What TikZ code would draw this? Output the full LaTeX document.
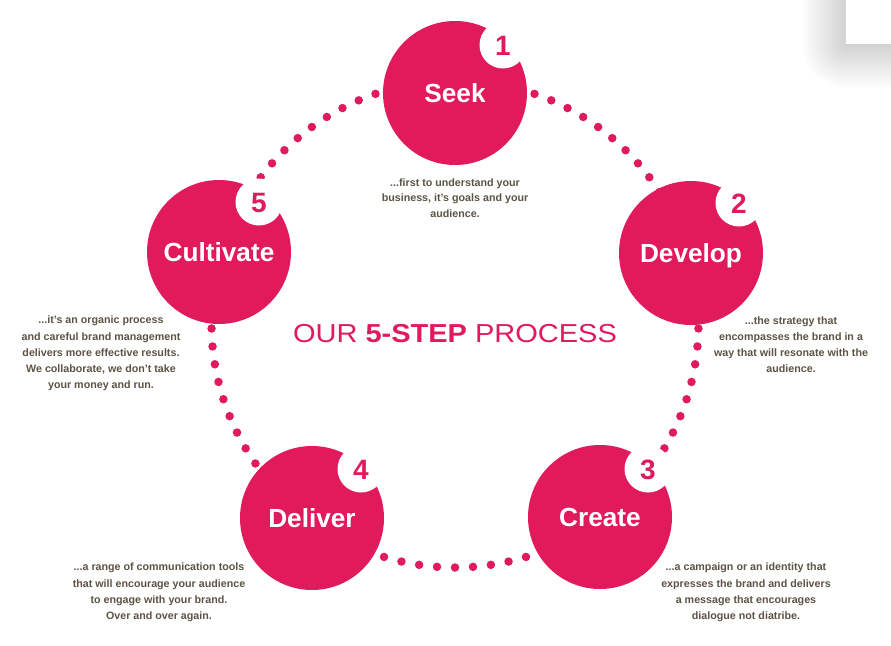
\documentclass[tikz,border=0pt]{standalone}
\usepackage{fontspec}
\setmainfont{Liberation Sans}
\usetikzlibrary{calc}
\definecolor{crim}{RGB}{225,26,91}
\definecolor{txt}{RGB}{92,84,68}
\begin{document}
\begin{tikzpicture}[x=1pt,y=-1pt,
  stepcirc/.style={circle, fill=crim, minimum size=144pt, inner sep=0pt, text=white,
    font=\fontsize{26.2}{26}\selectfont\bfseries, text height=19pt, text depth=0pt},
  badge/.style={circle, fill=white, minimum size=47pt, inner sep=0pt, text=crim,
    font=\fontsize{28}{28}\selectfont\bfseries, text height=20pt, text depth=0pt},
  desc/.style={text=txt, align=center, inner sep=0pt},
  pdot/.style={circle, fill=crim, minimum size=8.5pt, inner sep=0pt}]
\useasboundingbox (0,0) rectangle (891,645);
\fill[white] (0,0) rectangle (891,645);
% corner shadow
\foreach \k in {1,...,22}
  \fill[black, opacity=0.008, rounded corners=2*\k pt] (846-2*\k,-30) rectangle (930,44+2*\k);
\fill[white] (846,0) rectangle (891,44);
% dotted ring
\foreach \i in {0,...,84}
  \node[pdot] (d\i) at ($(455,324)+({90+\i*4.235294}:243.5)$) {};
% steps
\node[stepcirc] (seek) at (455,93) {Seek};
\node[stepcirc] (develop) at (691,253) {Develop};
\node[stepcirc] (create) at (600,517) {Create};
\node[stepcirc] (deliver) at (312,518) {Deliver};
\node[stepcirc] (cultivate) at (219,252) {Cultivate};
% badges
\node[badge] (b1) at (503,45) {1};
\node[badge] (b2) at (739,203) {2};
\node[badge] (b3) at (648,469) {3};
\node[badge] (b4) at (361,469) {4};
\node[badge] (b5) at (259,202) {5};
% title
\node[text=crim, inner sep=0pt] (title) at (455,334)
  {\scalebox{1.115}[1]{\fontsize{26}{26}\selectfont OUR \textbf{5-STEP} PROCESS}};
% descriptions
\node[desc, font=\fontsize{10.7}{15.5}\selectfont\bfseries] (seekd) at (455,198)
  {...first to understand your\\business, it’s goals and your\\audience.};
\node[desc, font=\fontsize{10.7}{16}\selectfont\bfseries] (developd) at (791,345)
  {...the strategy that\\encompasses the brand in a\\way that will resonate with the\\audience.};
\node[desc, font=\fontsize{10.7}{16.25}\selectfont\bfseries] (cultivated) at (101,353.5)
  {...it’s an organic process\\and careful brand management\\delivers more effective results.\\We collaborate, we don’t take\\your money and run.};
\node[desc, font=\fontsize{10.7}{16.3}\selectfont\bfseries] (created) at (746,592.5)
  {...a campaign or an identity that\\expresses the brand and delivers\\a message that encourages\\dialogue not diatribe.};
\node[desc, font=\fontsize{10.7}{16.3}\selectfont\bfseries] (deliverd) at (159,592.5)
  {...a range of communication tools\\that will encourage your audience\\to engage with your brand.\\Over and over again.};
\end{tikzpicture}
\end{document}
